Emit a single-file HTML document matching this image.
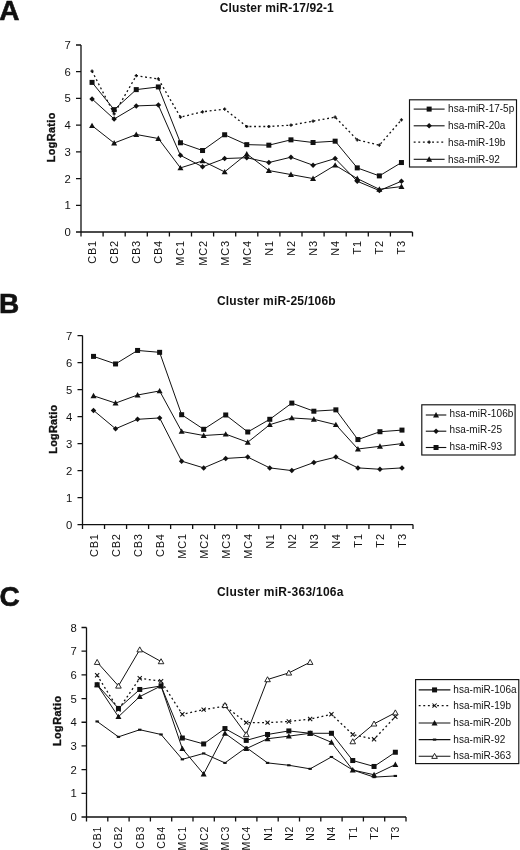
<!DOCTYPE html>
<html>
<head>
<meta charset="utf-8">
<title>miRNA cluster expression</title>
<style>
html, body { margin: 0; padding: 0; background: #fff; }
body { width: 520px; height: 850px; overflow: hidden; }
svg { display: block; font-family: "Liberation Sans", sans-serif; fill: #111; will-change: transform; filter: grayscale(1); }
</style>
</head>
<body>
<svg width="520" height="850" viewBox="0 0 520 850">
<rect x="0" y="0" width="520" height="850" fill="#fff"/>
<g>
<text x="-0.8" y="20.0" font-size="28" font-weight="bold" stroke="#111" stroke-width="0.6">A</text>
<text x="276.75" y="11.8" font-size="12" font-weight="bold" text-anchor="middle" textLength="114" lengthAdjust="spacing">Cluster miR-17/92-1</text>
<text transform="translate(54.8 137.5) rotate(-90)" font-size="10.8" font-weight="bold" text-anchor="middle" stroke="#111" stroke-width="0.35" textLength="49.6" lengthAdjust="spacing">LogRatio</text>
<path d="M81 45V232H412.5M76 232H81M76 205.29H81M76 178.57H81M76 151.86H81M76 125.14H81M76 98.43H81M76 71.71H81M76 45H81M81 232V236.5M103.1 232V236.5M125.2 232V236.5M147.3 232V236.5M169.4 232V236.5M191.5 232V236.5M213.6 232V236.5M235.7 232V236.5M257.8 232V236.5M279.9 232V236.5M302 232V236.5M324.1 232V236.5M346.2 232V236.5M368.3 232V236.5M390.4 232V236.5M412.5 232V236.5" stroke="#111" stroke-width="1.3" fill="none"/>
<text x="70.7" y="236" font-size="11.3" text-anchor="end">0</text>
<text x="70.7" y="209.29" font-size="11.3" text-anchor="end">1</text>
<text x="70.7" y="182.57" font-size="11.3" text-anchor="end">2</text>
<text x="70.7" y="155.86" font-size="11.3" text-anchor="end">3</text>
<text x="70.7" y="129.14" font-size="11.3" text-anchor="end">4</text>
<text x="70.7" y="102.43" font-size="11.3" text-anchor="end">5</text>
<text x="70.7" y="75.71" font-size="11.3" text-anchor="end">6</text>
<text x="70.7" y="49" font-size="11.3" text-anchor="end">7</text>
<text transform="translate(96.05 240) rotate(-90)" font-size="11" letter-spacing="0.8" text-anchor="end">CB1</text>
<text transform="translate(118.15 240) rotate(-90)" font-size="11" letter-spacing="0.8" text-anchor="end">CB2</text>
<text transform="translate(140.25 240) rotate(-90)" font-size="11" letter-spacing="0.8" text-anchor="end">CB3</text>
<text transform="translate(162.35 240) rotate(-90)" font-size="11" letter-spacing="0.8" text-anchor="end">CB4</text>
<text transform="translate(184.45 240) rotate(-90)" font-size="11" letter-spacing="0.8" text-anchor="end">MC1</text>
<text transform="translate(206.55 240) rotate(-90)" font-size="11" letter-spacing="0.8" text-anchor="end">MC2</text>
<text transform="translate(228.65 240) rotate(-90)" font-size="11" letter-spacing="0.8" text-anchor="end">MC3</text>
<text transform="translate(250.75 240) rotate(-90)" font-size="11" letter-spacing="0.8" text-anchor="end">MC4</text>
<text transform="translate(272.85 240) rotate(-90)" font-size="11" letter-spacing="0.8" text-anchor="end">N1</text>
<text transform="translate(294.95 240) rotate(-90)" font-size="11" letter-spacing="0.8" text-anchor="end">N2</text>
<text transform="translate(317.05 240) rotate(-90)" font-size="11" letter-spacing="0.8" text-anchor="end">N3</text>
<text transform="translate(339.15 240) rotate(-90)" font-size="11" letter-spacing="0.8" text-anchor="end">N4</text>
<text transform="translate(361.25 240) rotate(-90)" font-size="11" letter-spacing="0.8" text-anchor="end">T1</text>
<text transform="translate(383.35 240) rotate(-90)" font-size="11" letter-spacing="0.8" text-anchor="end">T2</text>
<text transform="translate(405.45 240) rotate(-90)" font-size="11" letter-spacing="0.8" text-anchor="end">T3</text>
<path d="M92.05 71.18L114.15 113.92L136.25 75.72L158.35 78.93L180.45 117.13L202.55 111.79L224.65 109.11L246.75 126.48L268.85 126.48L290.95 125.14L313.05 121.14L335.15 117.13L357.25 139.84L379.35 145.18L401.45 119.8" stroke="#111" stroke-width="1.3" fill="none" stroke-dasharray="1.9 2.7"/>
<path d="M90.45 71.18H93.65M92.05 69.58V72.78" stroke="#111" stroke-width="1.3" fill="none"/>
<path d="M112.55 113.92H115.75M114.15 112.32V115.52" stroke="#111" stroke-width="1.3" fill="none"/>
<path d="M134.65 75.72H137.85M136.25 74.12V77.32" stroke="#111" stroke-width="1.3" fill="none"/>
<path d="M156.75 78.93H159.95M158.35 77.33V80.53" stroke="#111" stroke-width="1.3" fill="none"/>
<path d="M178.85 117.13H182.05M180.45 115.53V118.73" stroke="#111" stroke-width="1.3" fill="none"/>
<path d="M200.95 111.79H204.15M202.55 110.19V113.39" stroke="#111" stroke-width="1.3" fill="none"/>
<path d="M223.05 109.11H226.25M224.65 107.51V110.71" stroke="#111" stroke-width="1.3" fill="none"/>
<path d="M245.15 126.48H248.35M246.75 124.88V128.08" stroke="#111" stroke-width="1.3" fill="none"/>
<path d="M267.25 126.48H270.45M268.85 124.88V128.08" stroke="#111" stroke-width="1.3" fill="none"/>
<path d="M289.35 125.14H292.55M290.95 123.54V126.74" stroke="#111" stroke-width="1.3" fill="none"/>
<path d="M311.45 121.14H314.65M313.05 119.54V122.74" stroke="#111" stroke-width="1.3" fill="none"/>
<path d="M333.55 117.13H336.75M335.15 115.53V118.73" stroke="#111" stroke-width="1.3" fill="none"/>
<path d="M355.65 139.84H358.85M357.25 138.24V141.44" stroke="#111" stroke-width="1.3" fill="none"/>
<path d="M377.75 145.18H380.95M379.35 143.58V146.78" stroke="#111" stroke-width="1.3" fill="none"/>
<path d="M399.85 119.8H403.05M401.45 118.2V121.4" stroke="#111" stroke-width="1.3" fill="none"/>
<path d="M92.05 82.4L114.15 109.65L136.25 89.61L158.35 86.94L180.45 142.77L202.55 150.52L224.65 134.76L246.75 144.64L268.85 145.18L290.95 139.84L313.05 142.51L335.15 141.17L357.25 167.89L379.35 175.9L401.45 162.54" stroke="#111" stroke-width="1.0" fill="none"/>
<rect x="89.55" y="79.9" width="5" height="5" fill="#111"/>
<rect x="111.65" y="107.15" width="5" height="5" fill="#111"/>
<rect x="133.75" y="87.11" width="5" height="5" fill="#111"/>
<rect x="155.85" y="84.44" width="5" height="5" fill="#111"/>
<rect x="177.95" y="140.27" width="5" height="5" fill="#111"/>
<rect x="200.05" y="148.02" width="5" height="5" fill="#111"/>
<rect x="222.15" y="132.26" width="5" height="5" fill="#111"/>
<rect x="244.25" y="142.14" width="5" height="5" fill="#111"/>
<rect x="266.35" y="142.68" width="5" height="5" fill="#111"/>
<rect x="288.45" y="137.34" width="5" height="5" fill="#111"/>
<rect x="310.55" y="140.01" width="5" height="5" fill="#111"/>
<rect x="332.65" y="138.67" width="5" height="5" fill="#111"/>
<rect x="354.75" y="165.39" width="5" height="5" fill="#111"/>
<rect x="376.85" y="173.4" width="5" height="5" fill="#111"/>
<rect x="398.95" y="160.04" width="5" height="5" fill="#111"/>
<path d="M92.05 98.96L114.15 119L136.25 105.91L158.35 105.11L180.45 155.33L202.55 166.82L224.65 158.54L246.75 157.73L268.85 162.54L290.95 157.2L313.05 165.21L335.15 158.54L357.25 181.24L379.35 190.59L401.45 181.24" stroke="#111" stroke-width="1.0" fill="none"/>
<path d="M92.05 96.21L94.8 98.96L92.05 101.71L89.3 98.96Z" fill="#111"/>
<path d="M114.15 116.25L116.9 119L114.15 121.75L111.4 119Z" fill="#111"/>
<path d="M136.25 103.16L139 105.91L136.25 108.66L133.5 105.91Z" fill="#111"/>
<path d="M158.35 102.36L161.1 105.11L158.35 107.86L155.6 105.11Z" fill="#111"/>
<path d="M180.45 152.58L183.2 155.33L180.45 158.08L177.7 155.33Z" fill="#111"/>
<path d="M202.55 164.07L205.3 166.82L202.55 169.57L199.8 166.82Z" fill="#111"/>
<path d="M224.65 155.79L227.4 158.54L224.65 161.29L221.9 158.54Z" fill="#111"/>
<path d="M246.75 154.98L249.5 157.73L246.75 160.48L244 157.73Z" fill="#111"/>
<path d="M268.85 159.79L271.6 162.54L268.85 165.29L266.1 162.54Z" fill="#111"/>
<path d="M290.95 154.45L293.7 157.2L290.95 159.95L288.2 157.2Z" fill="#111"/>
<path d="M313.05 162.46L315.8 165.21L313.05 167.96L310.3 165.21Z" fill="#111"/>
<path d="M335.15 155.79L337.9 158.54L335.15 161.29L332.4 158.54Z" fill="#111"/>
<path d="M357.25 178.49L360 181.24L357.25 183.99L354.5 181.24Z" fill="#111"/>
<path d="M379.35 187.84L382.1 190.59L379.35 193.34L376.6 190.59Z" fill="#111"/>
<path d="M401.45 178.49L404.2 181.24L401.45 183.99L398.7 181.24Z" fill="#111"/>
<path d="M92.05 125.68L114.15 143.04L136.25 134.49L158.35 138.5L180.45 167.89L202.55 160.94L224.65 171.89L246.75 153.99L268.85 170.56L290.95 174.56L313.05 178.57L335.15 165.21L357.25 178.57L379.35 189.26L401.45 186.59" stroke="#111" stroke-width="1.0" fill="none"/>
<path d="M92.05 122.68L95.05 128.08L89.05 128.08Z" fill="#111"/>
<path d="M114.15 140.04L117.15 145.44L111.15 145.44Z" fill="#111"/>
<path d="M136.25 131.49L139.25 136.89L133.25 136.89Z" fill="#111"/>
<path d="M158.35 135.5L161.35 140.9L155.35 140.9Z" fill="#111"/>
<path d="M180.45 164.89L183.45 170.29L177.45 170.29Z" fill="#111"/>
<path d="M202.55 157.94L205.55 163.34L199.55 163.34Z" fill="#111"/>
<path d="M224.65 168.89L227.65 174.29L221.65 174.29Z" fill="#111"/>
<path d="M246.75 150.99L249.75 156.39L243.75 156.39Z" fill="#111"/>
<path d="M268.85 167.56L271.85 172.96L265.85 172.96Z" fill="#111"/>
<path d="M290.95 171.56L293.95 176.96L287.95 176.96Z" fill="#111"/>
<path d="M313.05 175.57L316.05 180.97L310.05 180.97Z" fill="#111"/>
<path d="M335.15 162.21L338.15 167.61L332.15 167.61Z" fill="#111"/>
<path d="M357.25 175.57L360.25 180.97L354.25 180.97Z" fill="#111"/>
<path d="M379.35 186.26L382.35 191.66L376.35 191.66Z" fill="#111"/>
<path d="M401.45 183.59L404.45 188.99L398.45 188.99Z" fill="#111"/>
<rect x="409.5" y="99.8" width="107" height="67.2" fill="#fff" stroke="#111" stroke-width="1.15"/>
<path d="M413.7 109.1H444.6" stroke="#111" stroke-width="1.1"/>
<rect x="426.65" y="106.6" width="5" height="5" fill="#111"/>
<text x="448.1" y="112.4" font-size="10" letter-spacing="0">hsa-miR-17-5p</text>
<path d="M413.7 125.8H444.6" stroke="#111" stroke-width="1.1"/>
<path d="M429.15 123.05L431.9 125.8L429.15 128.55L426.4 125.8Z" fill="#111"/>
<text x="448.1" y="129.1" font-size="10" letter-spacing="0">hsa-miR-20a</text>
<path d="M413.7 142.2H444.6" stroke="#111" stroke-width="1.3" stroke-dasharray="1.9 2.7"/>
<path d="M427.55 142.2H430.75M429.15 140.6V143.8" stroke="#111" stroke-width="1.3" fill="none"/>
<text x="448.1" y="145.5" font-size="10" letter-spacing="0">hsa-miR-19b</text>
<path d="M413.7 159.3H444.6" stroke="#111" stroke-width="1.1"/>
<path d="M429.15 156.3L432.15 161.7L426.15 161.7Z" fill="#111"/>
<text x="448.1" y="162.6" font-size="10" letter-spacing="0">hsa-miR-92</text>
</g>
<g>
<text x="-0.9" y="313.4" font-size="28" font-weight="bold" stroke="#111" stroke-width="0.6">B</text>
<text x="276.25" y="304.9" font-size="12" font-weight="bold" text-anchor="middle" textLength="118.7" lengthAdjust="spacing">Cluster miR-25/106b</text>
<text transform="translate(57.3 429.3) rotate(-90)" font-size="10.8" font-weight="bold" text-anchor="middle" stroke="#111" stroke-width="0.35" textLength="48.8" lengthAdjust="spacing">LogRatio</text>
<path d="M82.5 335.6V524.6H413M77.5 524.6H82.5M77.5 497.6H82.5M77.5 470.6H82.5M77.5 443.6H82.5M77.5 416.6H82.5M77.5 389.6H82.5M77.5 362.6H82.5M77.5 335.6H82.5M82.5 524.6V529.1M104.53 524.6V529.1M126.57 524.6V529.1M148.6 524.6V529.1M170.63 524.6V529.1M192.67 524.6V529.1M214.7 524.6V529.1M236.73 524.6V529.1M258.77 524.6V529.1M280.8 524.6V529.1M302.83 524.6V529.1M324.87 524.6V529.1M346.9 524.6V529.1M368.93 524.6V529.1M390.97 524.6V529.1M413 524.6V529.1" stroke="#111" stroke-width="1.3" fill="none"/>
<text x="72.2" y="528.6" font-size="11.3" text-anchor="end">0</text>
<text x="72.2" y="501.6" font-size="11.3" text-anchor="end">1</text>
<text x="72.2" y="474.6" font-size="11.3" text-anchor="end">2</text>
<text x="72.2" y="447.6" font-size="11.3" text-anchor="end">3</text>
<text x="72.2" y="420.6" font-size="11.3" text-anchor="end">4</text>
<text x="72.2" y="393.6" font-size="11.3" text-anchor="end">5</text>
<text x="72.2" y="366.6" font-size="11.3" text-anchor="end">6</text>
<text x="72.2" y="339.6" font-size="11.3" text-anchor="end">7</text>
<text transform="translate(97.52 533.2) rotate(-90)" font-size="11" letter-spacing="0.8" text-anchor="end">CB1</text>
<text transform="translate(119.55 533.2) rotate(-90)" font-size="11" letter-spacing="0.8" text-anchor="end">CB2</text>
<text transform="translate(141.58 533.2) rotate(-90)" font-size="11" letter-spacing="0.8" text-anchor="end">CB3</text>
<text transform="translate(163.62 533.2) rotate(-90)" font-size="11" letter-spacing="0.8" text-anchor="end">CB4</text>
<text transform="translate(185.65 533.2) rotate(-90)" font-size="11" letter-spacing="0.8" text-anchor="end">MC1</text>
<text transform="translate(207.68 533.2) rotate(-90)" font-size="11" letter-spacing="0.8" text-anchor="end">MC2</text>
<text transform="translate(229.72 533.2) rotate(-90)" font-size="11" letter-spacing="0.8" text-anchor="end">MC3</text>
<text transform="translate(251.75 533.2) rotate(-90)" font-size="11" letter-spacing="0.8" text-anchor="end">MC4</text>
<text transform="translate(273.78 533.2) rotate(-90)" font-size="11" letter-spacing="0.8" text-anchor="end">N1</text>
<text transform="translate(295.82 533.2) rotate(-90)" font-size="11" letter-spacing="0.8" text-anchor="end">N2</text>
<text transform="translate(317.85 533.2) rotate(-90)" font-size="11" letter-spacing="0.8" text-anchor="end">N3</text>
<text transform="translate(339.88 533.2) rotate(-90)" font-size="11" letter-spacing="0.8" text-anchor="end">N4</text>
<text transform="translate(361.92 533.2) rotate(-90)" font-size="11" letter-spacing="0.8" text-anchor="end">T1</text>
<text transform="translate(383.95 533.2) rotate(-90)" font-size="11" letter-spacing="0.8" text-anchor="end">T2</text>
<text transform="translate(405.98 533.2) rotate(-90)" font-size="11" letter-spacing="0.8" text-anchor="end">T3</text>
<path d="M93.52 356.39L115.55 363.95L137.58 350.45L159.62 352.34L181.65 414.71L203.68 429.29L225.72 414.98L247.75 431.99L269.78 419.3L291.82 403.1L313.85 411.2L335.88 409.85L357.92 439.55L379.95 431.72L401.98 430.1" stroke="#111" stroke-width="1.0" fill="none"/>
<rect x="91.02" y="353.89" width="5" height="5" fill="#111"/>
<rect x="113.05" y="361.45" width="5" height="5" fill="#111"/>
<rect x="135.08" y="347.95" width="5" height="5" fill="#111"/>
<rect x="157.12" y="349.84" width="5" height="5" fill="#111"/>
<rect x="179.15" y="412.21" width="5" height="5" fill="#111"/>
<rect x="201.18" y="426.79" width="5" height="5" fill="#111"/>
<rect x="223.22" y="412.48" width="5" height="5" fill="#111"/>
<rect x="245.25" y="429.49" width="5" height="5" fill="#111"/>
<rect x="267.28" y="416.8" width="5" height="5" fill="#111"/>
<rect x="289.32" y="400.6" width="5" height="5" fill="#111"/>
<rect x="311.35" y="408.7" width="5" height="5" fill="#111"/>
<rect x="333.38" y="407.35" width="5" height="5" fill="#111"/>
<rect x="355.42" y="437.05" width="5" height="5" fill="#111"/>
<rect x="377.45" y="429.22" width="5" height="5" fill="#111"/>
<rect x="399.48" y="427.6" width="5" height="5" fill="#111"/>
<path d="M93.52 395.81L115.55 403.1L137.58 395L159.62 390.95L181.65 431.45L203.68 435.5L225.72 434.15L247.75 442.25L269.78 424.7L291.82 417.95L313.85 419.3L335.88 424.7L357.92 449L379.95 446.3L401.98 443.6" stroke="#111" stroke-width="1.0" fill="none"/>
<path d="M93.52 392.81L96.52 398.21L90.52 398.21Z" fill="#111"/>
<path d="M115.55 400.1L118.55 405.5L112.55 405.5Z" fill="#111"/>
<path d="M137.58 392L140.58 397.4L134.58 397.4Z" fill="#111"/>
<path d="M159.62 387.95L162.62 393.35L156.62 393.35Z" fill="#111"/>
<path d="M181.65 428.45L184.65 433.85L178.65 433.85Z" fill="#111"/>
<path d="M203.68 432.5L206.68 437.9L200.68 437.9Z" fill="#111"/>
<path d="M225.72 431.15L228.72 436.55L222.72 436.55Z" fill="#111"/>
<path d="M247.75 439.25L250.75 444.65L244.75 444.65Z" fill="#111"/>
<path d="M269.78 421.7L272.78 427.1L266.78 427.1Z" fill="#111"/>
<path d="M291.82 414.95L294.82 420.35L288.82 420.35Z" fill="#111"/>
<path d="M313.85 416.3L316.85 421.7L310.85 421.7Z" fill="#111"/>
<path d="M335.88 421.7L338.88 427.1L332.88 427.1Z" fill="#111"/>
<path d="M357.92 446L360.92 451.4L354.92 451.4Z" fill="#111"/>
<path d="M379.95 443.3L382.95 448.7L376.95 448.7Z" fill="#111"/>
<path d="M401.98 440.6L404.98 446L398.98 446Z" fill="#111"/>
<path d="M93.52 410.39L115.55 428.75L137.58 419.3L159.62 417.95L181.65 461.15L203.68 467.9L225.72 458.45L247.75 457.1L269.78 467.9L291.82 470.6L313.85 462.5L335.88 457.1L357.92 467.9L379.95 469.25L401.98 467.9" stroke="#111" stroke-width="1.0" fill="none"/>
<path d="M93.52 407.64L96.27 410.39L93.52 413.14L90.77 410.39Z" fill="#111"/>
<path d="M115.55 426L118.3 428.75L115.55 431.5L112.8 428.75Z" fill="#111"/>
<path d="M137.58 416.55L140.33 419.3L137.58 422.05L134.83 419.3Z" fill="#111"/>
<path d="M159.62 415.2L162.37 417.95L159.62 420.7L156.87 417.95Z" fill="#111"/>
<path d="M181.65 458.4L184.4 461.15L181.65 463.9L178.9 461.15Z" fill="#111"/>
<path d="M203.68 465.15L206.43 467.9L203.68 470.65L200.93 467.9Z" fill="#111"/>
<path d="M225.72 455.7L228.47 458.45L225.72 461.2L222.97 458.45Z" fill="#111"/>
<path d="M247.75 454.35L250.5 457.1L247.75 459.85L245 457.1Z" fill="#111"/>
<path d="M269.78 465.15L272.53 467.9L269.78 470.65L267.03 467.9Z" fill="#111"/>
<path d="M291.82 467.85L294.57 470.6L291.82 473.35L289.07 470.6Z" fill="#111"/>
<path d="M313.85 459.75L316.6 462.5L313.85 465.25L311.1 462.5Z" fill="#111"/>
<path d="M335.88 454.35L338.63 457.1L335.88 459.85L333.13 457.1Z" fill="#111"/>
<path d="M357.92 465.15L360.67 467.9L357.92 470.65L355.17 467.9Z" fill="#111"/>
<path d="M379.95 466.5L382.7 469.25L379.95 472L377.2 469.25Z" fill="#111"/>
<path d="M401.98 465.15L404.73 467.9L401.98 470.65L399.23 467.9Z" fill="#111"/>
<rect x="421.8" y="404.8" width="93.3" height="50.2" fill="#fff" stroke="#111" stroke-width="1.15"/>
<path d="M425.8 415H446.3" stroke="#111" stroke-width="1.1"/>
<path d="M436.05 412L439.05 417.4L433.05 417.4Z" fill="#111"/>
<text x="449.5" y="417" font-size="10" letter-spacing="0.1">hsa-miR-106b</text>
<path d="M425.8 431.2H446.3" stroke="#111" stroke-width="1.1"/>
<path d="M436.05 428.45L438.8 431.2L436.05 433.95L433.3 431.2Z" fill="#111"/>
<text x="449.5" y="433.2" font-size="10" letter-spacing="0.1">hsa-miR-25</text>
<path d="M425.8 447.5H446.3" stroke="#111" stroke-width="1.1"/>
<rect x="433.55" y="445" width="5" height="5" fill="#111"/>
<text x="449.5" y="449.5" font-size="10" letter-spacing="0.1">hsa-miR-93</text>
</g>
<g>
<text x="-0.6" y="605.8" font-size="28" font-weight="bold" stroke="#111" stroke-width="0.6">C</text>
<text x="280.2" y="595.5" font-size="12" font-weight="bold" text-anchor="middle" textLength="126.6" lengthAdjust="spacing">Cluster miR-363/106a</text>
<text transform="translate(61.4 721) rotate(-90)" font-size="10.8" font-weight="bold" text-anchor="middle" stroke="#111" stroke-width="0.35" textLength="50" lengthAdjust="spacing">LogRatio</text>
<path d="M86.5 627.5V817H406M81.5 817H86.5M81.5 793.31H86.5M81.5 769.62H86.5M81.5 745.94H86.5M81.5 722.25H86.5M81.5 698.56H86.5M81.5 674.88H86.5M81.5 651.19H86.5M81.5 627.5H86.5M86.5 817V821.5M107.8 817V821.5M129.1 817V821.5M150.4 817V821.5M171.7 817V821.5M193 817V821.5M214.3 817V821.5M235.6 817V821.5M256.9 817V821.5M278.2 817V821.5M299.5 817V821.5M320.8 817V821.5M342.1 817V821.5M363.4 817V821.5M384.7 817V821.5M406 817V821.5" stroke="#111" stroke-width="1.3" fill="none"/>
<text x="76.7" y="821" font-size="11.3" text-anchor="end">0</text>
<text x="76.7" y="797.31" font-size="11.3" text-anchor="end">1</text>
<text x="76.7" y="773.62" font-size="11.3" text-anchor="end">2</text>
<text x="76.7" y="749.94" font-size="11.3" text-anchor="end">3</text>
<text x="76.7" y="726.25" font-size="11.3" text-anchor="end">4</text>
<text x="76.7" y="702.56" font-size="11.3" text-anchor="end">5</text>
<text x="76.7" y="678.88" font-size="11.3" text-anchor="end">6</text>
<text x="76.7" y="655.19" font-size="11.3" text-anchor="end">7</text>
<text x="76.7" y="631.5" font-size="11.3" text-anchor="end">8</text>
<text transform="translate(101.15 825.8) rotate(-90)" font-size="10.5" letter-spacing="0.8" text-anchor="end">CB1</text>
<text transform="translate(122.45 825.8) rotate(-90)" font-size="10.5" letter-spacing="0.8" text-anchor="end">CB2</text>
<text transform="translate(143.75 825.8) rotate(-90)" font-size="10.5" letter-spacing="0.8" text-anchor="end">CB3</text>
<text transform="translate(165.05 825.8) rotate(-90)" font-size="10.5" letter-spacing="0.8" text-anchor="end">CB4</text>
<text transform="translate(186.35 825.8) rotate(-90)" font-size="10.5" letter-spacing="0.8" text-anchor="end">MC1</text>
<text transform="translate(207.65 825.8) rotate(-90)" font-size="10.5" letter-spacing="0.8" text-anchor="end">MC2</text>
<text transform="translate(228.95 825.8) rotate(-90)" font-size="10.5" letter-spacing="0.8" text-anchor="end">MC3</text>
<text transform="translate(250.25 825.8) rotate(-90)" font-size="10.5" letter-spacing="0.8" text-anchor="end">MC4</text>
<text transform="translate(271.55 825.8) rotate(-90)" font-size="10.5" letter-spacing="0.8" text-anchor="end">N1</text>
<text transform="translate(292.85 825.8) rotate(-90)" font-size="10.5" letter-spacing="0.8" text-anchor="end">N2</text>
<text transform="translate(314.15 825.8) rotate(-90)" font-size="10.5" letter-spacing="0.8" text-anchor="end">N3</text>
<text transform="translate(335.45 825.8) rotate(-90)" font-size="10.5" letter-spacing="0.8" text-anchor="end">N4</text>
<text transform="translate(356.75 825.8) rotate(-90)" font-size="10.5" letter-spacing="0.8" text-anchor="end">T1</text>
<text transform="translate(378.05 825.8) rotate(-90)" font-size="10.5" letter-spacing="0.8" text-anchor="end">T2</text>
<text transform="translate(399.35 825.8) rotate(-90)" font-size="10.5" letter-spacing="0.8" text-anchor="end">T3</text>
<path d="M97.15 675.26L118.45 709.61L139.75 678.34L161.05 681.18L182.35 714.34L203.65 709.61L224.95 706.05L246.25 722.63L267.55 722.63L288.85 721.45L310.15 719.08L331.45 714.34L352.75 734.48L374.05 739.22L395.35 716.71" stroke="#111" stroke-width="1.3" fill="none" stroke-dasharray="1.9 2.7"/>
<path d="M95.05 673.16L99.25 677.36M95.05 677.36L99.25 673.16" stroke="#111" stroke-width="1.05" fill="none"/>
<path d="M116.35 707.51L120.55 711.71M116.35 711.71L120.55 707.51" stroke="#111" stroke-width="1.05" fill="none"/>
<path d="M137.65 676.24L141.85 680.44M137.65 680.44L141.85 676.24" stroke="#111" stroke-width="1.05" fill="none"/>
<path d="M158.95 679.08L163.15 683.28M158.95 683.28L163.15 679.08" stroke="#111" stroke-width="1.05" fill="none"/>
<path d="M180.25 712.24L184.45 716.44M180.25 716.44L184.45 712.24" stroke="#111" stroke-width="1.05" fill="none"/>
<path d="M201.55 707.51L205.75 711.71M201.55 711.71L205.75 707.51" stroke="#111" stroke-width="1.05" fill="none"/>
<path d="M222.85 703.95L227.05 708.15M222.85 708.15L227.05 703.95" stroke="#111" stroke-width="1.05" fill="none"/>
<path d="M244.15 720.53L248.35 724.73M244.15 724.73L248.35 720.53" stroke="#111" stroke-width="1.05" fill="none"/>
<path d="M265.45 720.53L269.65 724.73M265.45 724.73L269.65 720.53" stroke="#111" stroke-width="1.05" fill="none"/>
<path d="M286.75 719.35L290.95 723.55M286.75 723.55L290.95 719.35" stroke="#111" stroke-width="1.05" fill="none"/>
<path d="M308.05 716.98L312.25 721.18M308.05 721.18L312.25 716.98" stroke="#111" stroke-width="1.05" fill="none"/>
<path d="M329.35 712.24L333.55 716.44M329.35 716.44L333.55 712.24" stroke="#111" stroke-width="1.05" fill="none"/>
<path d="M350.65 732.38L354.85 736.58M350.65 736.58L354.85 732.38" stroke="#111" stroke-width="1.05" fill="none"/>
<path d="M371.95 737.12L376.15 741.32M371.95 741.32L376.15 737.12" stroke="#111" stroke-width="1.05" fill="none"/>
<path d="M393.25 714.61L397.45 718.81M393.25 718.81L397.45 714.61" stroke="#111" stroke-width="1.05" fill="none"/>
<path d="M97.15 721.45L118.45 736.85L139.75 729.74L161.05 734.48L182.35 759.35L203.65 753.43L224.95 762.9L246.25 747.51L267.55 762.9L288.85 765.27L310.15 768.83L331.45 756.98L352.75 770.01L374.05 777.12L395.35 775.93" stroke="#111" stroke-width="1.0" fill="none"/>
<path d="M95.45 721.45H98.85" stroke="#111" stroke-width="2.1" fill="none"/>
<path d="M116.75 736.85H120.15" stroke="#111" stroke-width="2.1" fill="none"/>
<path d="M138.05 729.74H141.45" stroke="#111" stroke-width="2.1" fill="none"/>
<path d="M159.35 734.48H162.75" stroke="#111" stroke-width="2.1" fill="none"/>
<path d="M180.65 759.35H184.05" stroke="#111" stroke-width="2.1" fill="none"/>
<path d="M201.95 753.43H205.35" stroke="#111" stroke-width="2.1" fill="none"/>
<path d="M223.25 762.9H226.65" stroke="#111" stroke-width="2.1" fill="none"/>
<path d="M244.55 747.51H247.95" stroke="#111" stroke-width="2.1" fill="none"/>
<path d="M265.85 762.9H269.25" stroke="#111" stroke-width="2.1" fill="none"/>
<path d="M287.15 765.27H290.55" stroke="#111" stroke-width="2.1" fill="none"/>
<path d="M308.45 768.83H311.85" stroke="#111" stroke-width="2.1" fill="none"/>
<path d="M329.75 756.98H333.15" stroke="#111" stroke-width="2.1" fill="none"/>
<path d="M351.05 770.01H354.45" stroke="#111" stroke-width="2.1" fill="none"/>
<path d="M372.35 777.12H375.75" stroke="#111" stroke-width="2.1" fill="none"/>
<path d="M393.65 775.93H397.05" stroke="#111" stroke-width="2.1" fill="none"/>
<path d="M97.15 684.73L118.45 708.42L139.75 689.47L161.05 685.92L182.35 738.03L203.65 743.95L224.95 728.56L246.25 740.4L267.55 734.48L288.85 730.93L310.15 733.29L331.45 733.29L352.75 760.53L374.05 766.46L395.35 752.24" stroke="#111" stroke-width="1.0" fill="none"/>
<rect x="94.65" y="682.23" width="5" height="5" fill="#111"/>
<rect x="115.95" y="705.92" width="5" height="5" fill="#111"/>
<rect x="137.25" y="686.97" width="5" height="5" fill="#111"/>
<rect x="158.55" y="683.42" width="5" height="5" fill="#111"/>
<rect x="179.85" y="735.53" width="5" height="5" fill="#111"/>
<rect x="201.15" y="741.45" width="5" height="5" fill="#111"/>
<rect x="222.45" y="726.06" width="5" height="5" fill="#111"/>
<rect x="243.75" y="737.9" width="5" height="5" fill="#111"/>
<rect x="265.05" y="731.98" width="5" height="5" fill="#111"/>
<rect x="286.35" y="728.43" width="5" height="5" fill="#111"/>
<rect x="307.65" y="730.79" width="5" height="5" fill="#111"/>
<rect x="328.95" y="730.79" width="5" height="5" fill="#111"/>
<rect x="350.25" y="758.03" width="5" height="5" fill="#111"/>
<rect x="371.55" y="763.96" width="5" height="5" fill="#111"/>
<rect x="392.85" y="749.74" width="5" height="5" fill="#111"/>
<path d="M97.15 684.73L118.45 716.71L139.75 696.58L161.05 685.92L182.35 748.69L203.65 774.04L224.95 733.29L246.25 748.69L267.55 738.74L288.85 736.14L310.15 733.29L331.45 742.3L352.75 770.01L374.05 774.75L395.35 764.56" stroke="#111" stroke-width="1.0" fill="none"/>
<path d="M97.15 681.73L100.15 687.13L94.15 687.13Z" fill="#111"/>
<path d="M118.45 713.71L121.45 719.11L115.45 719.11Z" fill="#111"/>
<path d="M139.75 693.58L142.75 698.98L136.75 698.98Z" fill="#111"/>
<path d="M161.05 682.92L164.05 688.32L158.05 688.32Z" fill="#111"/>
<path d="M182.35 745.69L185.35 751.09L179.35 751.09Z" fill="#111"/>
<path d="M203.65 771.04L206.65 776.44L200.65 776.44Z" fill="#111"/>
<path d="M224.95 730.29L227.95 735.69L221.95 735.69Z" fill="#111"/>
<path d="M246.25 745.69L249.25 751.09L243.25 751.09Z" fill="#111"/>
<path d="M267.55 735.74L270.55 741.14L264.55 741.14Z" fill="#111"/>
<path d="M288.85 733.14L291.85 738.54L285.85 738.54Z" fill="#111"/>
<path d="M310.15 730.29L313.15 735.69L307.15 735.69Z" fill="#111"/>
<path d="M331.45 739.3L334.45 744.7L328.45 744.7Z" fill="#111"/>
<path d="M352.75 767.01L355.75 772.41L349.75 772.41Z" fill="#111"/>
<path d="M374.05 771.75L377.05 777.15L371.05 777.15Z" fill="#111"/>
<path d="M395.35 761.56L398.35 766.96L392.35 766.96Z" fill="#111"/>
<path d="M97.15 662.23L118.45 685.92L139.75 649.68L161.05 661.52" stroke="#111" stroke-width="1.0" fill="none"/>
<path d="M224.95 705.34L246.25 734.48L267.55 679.52L288.85 672.89L310.15 662.23" stroke="#111" stroke-width="1.0" fill="none"/>
<path d="M352.75 741.58L374.05 723.82L395.35 712.69" stroke="#111" stroke-width="1.0" fill="none"/>
<path d="M97.15 659.43L99.95 664.43L94.35 664.43Z" fill="#fff" stroke="#111" stroke-width="0.9"/>
<path d="M118.45 683.12L121.25 688.12L115.65 688.12Z" fill="#fff" stroke="#111" stroke-width="0.9"/>
<path d="M139.75 646.88L142.55 651.88L136.95 651.88Z" fill="#fff" stroke="#111" stroke-width="0.9"/>
<path d="M161.05 658.72L163.85 663.72L158.25 663.72Z" fill="#fff" stroke="#111" stroke-width="0.9"/>
<path d="M224.95 702.54L227.75 707.54L222.15 707.54Z" fill="#fff" stroke="#111" stroke-width="0.9"/>
<path d="M246.25 731.68L249.05 736.68L243.45 736.68Z" fill="#fff" stroke="#111" stroke-width="0.9"/>
<path d="M267.55 676.72L270.35 681.72L264.75 681.72Z" fill="#fff" stroke="#111" stroke-width="0.9"/>
<path d="M288.85 670.09L291.65 675.09L286.05 675.09Z" fill="#fff" stroke="#111" stroke-width="0.9"/>
<path d="M310.15 659.43L312.95 664.43L307.35 664.43Z" fill="#fff" stroke="#111" stroke-width="0.9"/>
<path d="M352.75 738.78L355.55 743.78L349.95 743.78Z" fill="#fff" stroke="#111" stroke-width="0.9"/>
<path d="M374.05 721.02L376.85 726.02L371.25 726.02Z" fill="#fff" stroke="#111" stroke-width="0.9"/>
<path d="M395.35 709.89L398.15 714.89L392.55 714.89Z" fill="#fff" stroke="#111" stroke-width="0.9"/>
<rect x="415.6" y="679.6" width="103.2" height="84" fill="#fff" stroke="#111" stroke-width="1.15"/>
<path d="M418.7 689.9H450.4" stroke="#111" stroke-width="1.1"/>
<rect x="432.05" y="687.4" width="5" height="5" fill="#111"/>
<text x="453.3" y="692.9" font-size="10" letter-spacing="0.05">hsa-miR-106a</text>
<path d="M418.7 705.6H450.4" stroke="#111" stroke-width="1.3" stroke-dasharray="1.9 2.7"/>
<path d="M432.45 703.5L436.65 707.7M432.45 707.7L436.65 703.5" stroke="#111" stroke-width="1.05" fill="none"/>
<text x="453.3" y="708.6" font-size="10" letter-spacing="0.05">hsa-miR-19b</text>
<path d="M418.7 723H450.4" stroke="#111" stroke-width="1.1"/>
<path d="M434.55 720L437.55 725.4L431.55 725.4Z" fill="#111"/>
<text x="453.3" y="726" font-size="10" letter-spacing="0.05">hsa-miR-20b</text>
<path d="M418.7 739.6H450.4" stroke="#111" stroke-width="1.1"/>
<path d="M432.85 739.6H436.25" stroke="#111" stroke-width="2.1" fill="none"/>
<text x="453.3" y="742.6" font-size="10" letter-spacing="0.05">hsa-miR-92</text>
<path d="M418.7 756.2H450.4" stroke="#111" stroke-width="1.1"/>
<path d="M434.55 753.4L437.35 758.4L431.75 758.4Z" fill="#fff" stroke="#111" stroke-width="0.9"/>
<text x="453.3" y="759.2" font-size="10" letter-spacing="0.05">hsa-miR-363</text>
</g>
</svg>
</body>
</html>
